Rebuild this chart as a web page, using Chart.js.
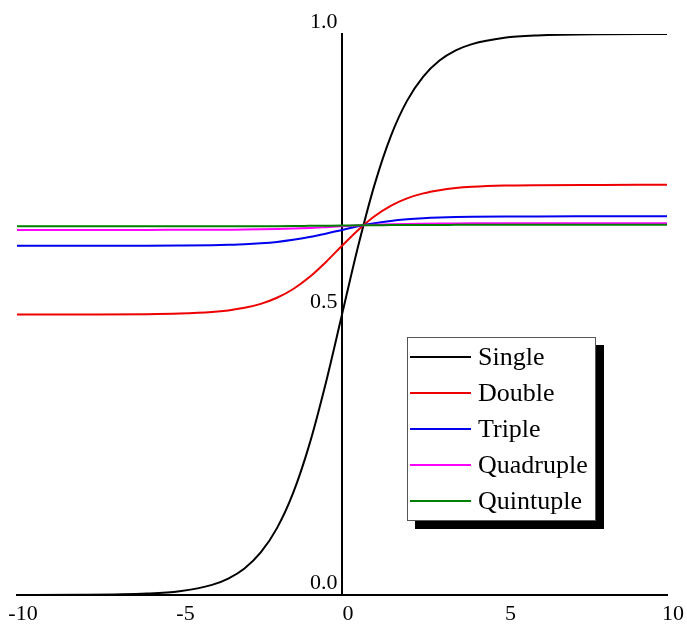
<!DOCTYPE html>
<html>
<head>
<meta charset="utf-8">
<script src="https://cdn.jsdelivr.net/npm/chart.js@4.4.1/dist/chart.umd.min.js"></script>
<style>
  html, body { margin: 0; padding: 0; background: #fff; }
  #wrap { position: relative; width: 687px; height: 625px; }
  #legendBox {
    position: absolute; left: 407px; top: 337px; width: 187px; height: 182px;
    border: 1px solid #555; background: #fff; box-shadow: 8px 8px 0 #000;
    font-family: 'Liberation Serif', 'Times New Roman', serif; font-size: 26px; color: #000;
  }
  .row { position: absolute; left: 0; height: 36px; width: 187px; }
  .swatch { position: absolute; left: 2px; top: 17px; width: 61px; height: 2px; }
  .label { position: absolute; left: 70px; top: 0; line-height: 36px; white-space: nowrap; }
</style>
</head>
<body>
<div id="wrap">
  <canvas id="chart" width="687" height="625"></canvas>
  <div id="legendBox"></div>
</div>
<script>
const xValues = [-10, -8, -6, -5, -4, -3.5, -3, -2.5, -2, -1.5, -1, -0.5, 0, 0.5, 1, 1.5, 2, 2.5, 3, 3.5, 4, 5, 6, 8, 10];

const single    = [0.0000, 0.0003, 0.0025, 0.0067, 0.0180, 0.0293, 0.0474, 0.0759, 0.1192, 0.1824, 0.2689, 0.3775, 0.5000, 0.6225, 0.7311, 0.8176, 0.8808, 0.9241, 0.9526, 0.9707, 0.9820, 0.9933, 0.9975, 0.9997, 1.0000];
const double    = [0.5000, 0.5001, 0.5006, 0.5017, 0.5045, 0.5073, 0.5119, 0.5190, 0.5298, 0.5455, 0.5668, 0.5933, 0.6225, 0.6508, 0.6751, 0.6937, 0.7070, 0.7159, 0.7216, 0.7253, 0.7275, 0.7298, 0.7306, 0.7310, 0.7311];
const triple    = [0.6225, 0.6225, 0.6226, 0.6229, 0.6235, 0.6242, 0.6252, 0.6269, 0.6294, 0.6331, 0.6380, 0.6441, 0.6508, 0.6572, 0.6626, 0.6668, 0.6697, 0.6717, 0.6730, 0.6738, 0.6743, 0.6748, 0.6749, 0.6750, 0.6750];
const quadruple = [0.6508, 0.6508, 0.6508, 0.6509, 0.6510, 0.6512, 0.6514, 0.6518, 0.6524, 0.6532, 0.6543, 0.6557, 0.6572, 0.6587, 0.6599, 0.6608, 0.6615, 0.6619, 0.6622, 0.6624, 0.6625, 0.6626, 0.6627, 0.6627, 0.6627];
const quintuple = [0.6572, 0.6572, 0.6572, 0.6572, 0.6572, 0.6573, 0.6573, 0.6574, 0.6575, 0.6577, 0.6580, 0.6583, 0.6586, 0.6590, 0.6592, 0.6594, 0.6596, 0.6597, 0.6597, 0.6598, 0.6598, 0.6598, 0.6598, 0.6599, 0.6599];

const seriesNames = ['Single', 'Double', 'Triple', 'Quadruple', 'Quintuple'];
const seriesColors = ['#000000', '#ee0000', '#0000ee', '#ff00ff', '#008000'];
const seriesData = [single, double, triple, quadruple, quintuple];

const xTicks = [-10, -5, 0, 5, 10];
const yTicks = [0, 0.5, 1];

const serif = 'Liberation Serif';

function toPoints(ys) {
    return xValues.map((x, i) => ({ x: x, y: ys[i] }));
}

const datasets = seriesNames.map((name, i) => ({
    label: name,
    data: toPoints(seriesData[i]),
    borderColor: seriesColors[i],
    borderWidth: 2,
    pointRadius: 0,
    fill: false,
    cubicInterpolationMode: 'monotone',
    order: seriesNames.length - i
}));

// keep the plot edges where the reference has them, labels may hang over
function noOverflow(axis) {
    axis.paddingLeft = 0;
    axis.paddingRight = 0;
    axis.paddingTop = 0;
    axis.paddingBottom = 0;
}

new Chart(document.getElementById('chart'), {
    type: 'line',
    data: { datasets: datasets },
    options: {
        responsive: false,
        animation: false,
        devicePixelRatio: 1,
        layout: { padding: { left: 17, right: 20, top: 34, bottom: 30 } },
        plugins: { legend: { display: false }, tooltip: { enabled: false } },
        scales: {
            x: {
                type: 'linear',
                position: { y: 0 },
                min: -10, max: 10,
                afterBuildTicks: (axis) => { axis.ticks = xTicks.map(v => ({ value: v })); },
                afterFit: noOverflow,
                grid: { display: false, drawTicks: false },
                border: { display: true, color: '#000', width: 2 },
                ticks: {
                    color: '#000', padding: 6, maxRotation: 0, labelOffset: 6,
                    font: { family: serif, size: 22 },
                    callback: (v) => String(v)
                }
            },
            y: {
                type: 'linear',
                position: { x: 0 },
                min: 0, max: 1,
                afterBuildTicks: (axis) => { axis.ticks = yTicks.map(v => ({ value: v })); },
                afterFit: noOverflow,
                grid: { display: false, drawTicks: false },
                border: { display: true, color: '#000', width: 2 },
                ticks: {
                    color: '#000', labelOffset: -12,
                    font: { family: serif, size: 22 },
                    // thin space keeps the label clear of the axis line
                    callback: (v) => Number(v).toFixed(1) + '\u2009'
                }
            }
        }
    }
});

// legend box with shadow, built from the same names and colours
const box = document.getElementById('legendBox');
seriesNames.forEach((name, i) => {
    const row = document.createElement('div');
    row.className = 'row';
    row.style.top = (1 + 36 * i) + 'px';
    const sw = document.createElement('div');
    sw.className = 'swatch';
    sw.style.background = seriesColors[i];
    const lb = document.createElement('div');
    lb.className = 'label';
    lb.textContent = name;
    row.appendChild(sw);
    row.appendChild(lb);
    box.appendChild(row);
});
</script>
</body>
</html>
